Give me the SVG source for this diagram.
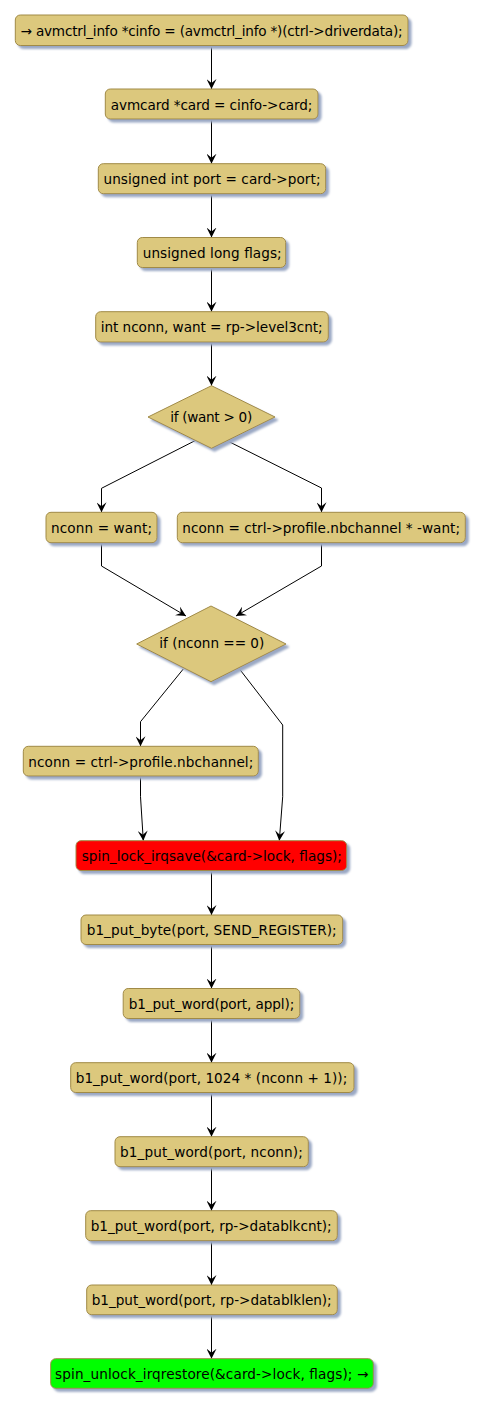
<svg xmlns="http://www.w3.org/2000/svg" width="484" height="1407" viewBox="0 0 484 1407">
<style>
.n{fill:#DCC87D;stroke:#A08A46;stroke-width:1;filter:url(#sh)}
.red{fill:#FF0000;stroke:#A08A46;stroke-width:1;filter:url(#sh)}
.grn{fill:#00FF00;stroke:#A08A46;stroke-width:1;filter:url(#sh)}
text{font-family:"DejaVu Sans",sans-serif;font-size:13.6px;fill:#000}
.c path{fill:none;stroke:#000;stroke-width:1;marker-end:url(#ah)}
</style>
<defs>
<filter id="sh" x="-10%" y="-20%" width="130%" height="160%">
<feGaussianBlur in="SourceAlpha" stdDeviation="1" result="b"/>
<feOffset in="b" dx="3" dy="3" result="o"/>
<feFlood flood-color="#9AA8C4"/>
<feComposite in2="o" operator="in" result="s"/>
<feMerge><feMergeNode in="s"/><feMergeNode in="SourceGraphic"/></feMerge>
</filter>
<marker id="ah" markerUnits="userSpaceOnUse" viewBox="0 0 10 10" refX="10" refY="5" markerWidth="10" markerHeight="10" orient="auto">
<path d="M0,0 L10,5 L0,10 L4,5 Z" fill="#000"/>
</marker>
</defs>
<g class="c" id="connectors">
<path d="M211.5,45.5 V89"/>
<path d="M211.5,119 V163.7"/>
<path d="M211.5,193.7 V237.5"/>
<path d="M211.5,267.5 V311.7"/>
<path d="M211.5,342 V385.7"/>
<path d="M195,440.7 L101.5,488.3 V512.3"/>
<path d="M226.7,440.5 L321.5,488 V512.3"/>
<path d="M101.5,542.7 V566 L186,616"/>
<path d="M321.5,542.7 V566 L236,616"/>
<path d="M183.3,669 L140.5,721.7 V746.3"/>
<path d="M238.7,668 L282.7,725 V796.7 L279.3,840.7"/>
<path d="M140.5,776 V796.7 L143.3,840.7"/>
<path d="M211.5,870.5 V915"/>
<path d="M211.5,944.5 V988.5"/>
<path d="M211.5,1018.5 V1062.7"/>
<path d="M211.5,1092.5 V1136.7"/>
<path d="M211.5,1166.7 V1210.7"/>
<path d="M211.5,1240.7 V1285"/>
<path d="M211.5,1314.7 V1358.7"/>
</g>
<g id="n1"><rect class="n" x="15.3" y="15" width="392.7" height="30.5" rx="5"/><text x="211.6" y="35.5" text-anchor="middle" textLength="382" lengthAdjust="spacing">→ avmctrl_info *cinfo = (avmctrl_info *)(ctrl-&gt;driverdata);</text></g>
<g id="n2"><rect class="n" x="105.3" y="89" width="212.7" height="30" rx="5"/><text x="211.6" y="109.5" text-anchor="middle" textLength="201.6" lengthAdjust="spacing">avmcard *card = cinfo-&gt;card;</text></g>
<g id="n3"><rect class="n" x="98.3" y="163.7" width="227.4" height="30" rx="5"/><text x="212" y="184.2" text-anchor="middle" textLength="217" lengthAdjust="spacing">unsigned int port = card-&gt;port;</text></g>
<g id="n4"><rect class="n" x="137.3" y="237.5" width="148.4" height="30" rx="5"/><text x="212.2" y="258" text-anchor="middle" textLength="139" lengthAdjust="spacing">unsigned long flags;</text></g>
<g id="n5"><rect class="n" x="95.7" y="311.7" width="232.6" height="30.3" rx="5"/><text x="211.7" y="332.2" text-anchor="middle" textLength="222" lengthAdjust="spacing">int nconn, want = rp-&gt;level3cnt;</text></g>
<g id="d1"><polygon class="n" points="211.5,385.7 275,417 211.5,448.3 148,417"/><text x="211.2" y="421.5" text-anchor="middle" textLength="82" lengthAdjust="spacing">if (want &gt; 0)</text></g>
<g id="n6"><rect class="n" x="46" y="512.3" width="111" height="30.4" rx="5"/><text x="101.5" y="532.8" text-anchor="middle" textLength="101" lengthAdjust="spacing">nconn = want;</text></g>
<g id="n7"><rect class="n" x="177.3" y="512.3" width="288" height="30.4" rx="5"/><text x="321.2" y="532.8" text-anchor="middle" textLength="277.7" lengthAdjust="spacing">nconn = ctrl-&gt;profile.nbchannel * -want;</text></g>
<g id="d2"><polygon class="n" points="211,606 286,644 211,681.7 136.7,644"/><text x="211.8" y="647.5" text-anchor="middle" textLength="105" lengthAdjust="spacing">if (nconn == 0)</text></g>
<g id="n8"><rect class="n" x="23.3" y="746.3" width="235" height="29.7" rx="5"/><text x="140.8" y="766.6" text-anchor="middle" textLength="225" lengthAdjust="spacing">nconn = ctrl-&gt;profile.nbchannel;</text></g>
<g id="n9"><rect class="red" x="76" y="840.7" width="270.7" height="29.8" rx="5"/><text x="211.8" y="861.1" text-anchor="middle" textLength="260.3" lengthAdjust="spacing">spin_lock_irqsave(&amp;card-&gt;lock, flags);</text></g>
<g id="n10"><rect class="n" x="81" y="915" width="261.7" height="29.5" rx="5"/><text x="211.7" y="935.4" text-anchor="middle" textLength="250" lengthAdjust="spacing">b1_put_byte(port, SEND_REGISTER);</text></g>
<g id="n11"><rect class="n" x="123.2" y="988.5" width="176.6" height="30" rx="5"/><text x="211.5" y="1009" text-anchor="middle" textLength="165.6" lengthAdjust="spacing">b1_put_word(port, appl);</text></g>
<g id="n12"><rect class="n" x="70.7" y="1062.7" width="283.3" height="29.8" rx="5"/><text x="211.5" y="1083.1" text-anchor="middle" textLength="271.6" lengthAdjust="spacing">b1_put_word(port, 1024 * (nconn + 1));</text></g>
<g id="n13"><rect class="n" x="115" y="1136.7" width="193.3" height="30" rx="5"/><text x="211.4" y="1157.2" text-anchor="middle" textLength="182.7" lengthAdjust="spacing">b1_put_word(port, nconn);</text></g>
<g id="n14"><rect class="n" x="85.7" y="1210.7" width="251.6" height="30" rx="5"/><text x="211.2" y="1231.2" text-anchor="middle" textLength="241" lengthAdjust="spacing">b1_put_word(port, rp-&gt;datablkcnt);</text></g>
<g id="n15"><rect class="n" x="86.7" y="1285" width="250.6" height="29.7" rx="5"/><text x="211.7" y="1305.4" text-anchor="middle" textLength="240" lengthAdjust="spacing">b1_put_word(port, rp-&gt;datablklen);</text></g>
<g id="n16"><rect class="grn" x="50.7" y="1358.7" width="322.6" height="29.6" rx="5"/><text x="211.7" y="1379.1" text-anchor="middle" textLength="313.3" lengthAdjust="spacing">spin_unlock_irqrestore(&amp;card-&gt;lock, flags); →</text></g>
</svg>
